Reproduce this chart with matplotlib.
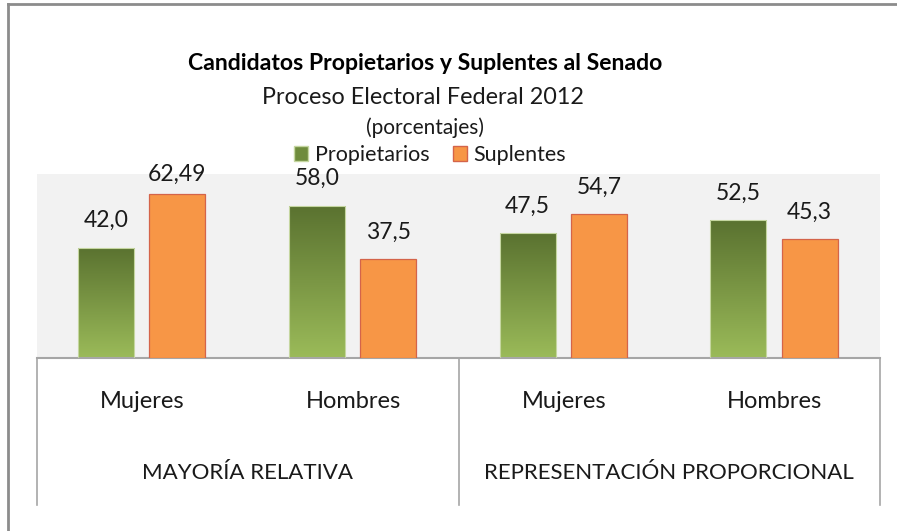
import numpy as np
import matplotlib
matplotlib.use('Agg')
import matplotlib.pyplot as plt
from matplotlib.patches import Patch
from matplotlib.colors import LinearSegmentedColormap
from matplotlib.lines import Line2D
import matplotlib.transforms as mtransforms

plt.rcParams['font.family'] = ['Lato', 'DejaVu Sans']

# data
categories = ['Mujeres', 'Hombres', 'Mujeres', 'Hombres']
groups = ['MAYORÍA RELATIVA', 'REPRESENTACIÓN PROPORCIONAL']
propietarios = [42.0, 58.0, 47.5, 52.5]
suplentes = [62.49, 37.5, 54.7, 45.3]
prop_labels = ['42,0', '58,0', '47,5', '52,5']
supl_labels = ['62,49', '37,5', '54,7', '45,3']

W, H = 897, 531
fig = plt.figure(figsize=(W / 100, H / 100), dpi=100)
fig.patch.set_facecolor('white')

# plot area in pixels (left, top, right, bottom)
px_l, px_t, px_r, px_b = 37, 174, 880, 358
ax = fig.add_axes([px_l / W, 1 - px_b / H, (px_r - px_l) / W, (px_b - px_t) / H])
ax.set_facecolor('#f2f2f2')
ax.set_xlim(-0.5, 3.5)
ax.set_ylim(0, 70)
ax.set_xticks([])
ax.set_yticks([])
for s in ['top', 'left', 'right']:
    ax.spines[s].set_visible(False)
ax.spines['bottom'].set_color('#a6a6a6')
ax.spines['bottom'].set_linewidth(1.5)

x = np.arange(len(categories))
bw = 0.266
green_bars = ax.bar(x - 0.172, propietarios, bw, color='none', edgecolor='#c5d6a0', linewidth=0.8, zorder=3)
orange_bars = ax.bar(x + 0.166, suplentes, bw, color='#f79646', edgecolor='#d4644a', linewidth=0.9, zorder=3)

# vertical gradient for the green bars
green_cmap = LinearSegmentedColormap.from_list('g', ['#9bbb59', '#5a7230'])
grad = np.linspace(0, 1, 256).reshape(-1, 1)
for p in green_bars:
    im = ax.imshow(grad, cmap=green_cmap, aspect='auto', origin='lower',
                   extent=[p.get_x(), p.get_x() + p.get_width(), 0, p.get_height()],
                   zorder=2)
    im.set_clip_path(p)
ax.set_xlim(-0.5, 3.5)
ax.set_ylim(0, 70)

txt = '#1a1a1a'

# data labels (kept inside the chart like excel does)
ppu = (px_b - px_t) / 70.0
def put_label(bars, labels):
    for p, lab in zip(bars, labels):
        h = p.get_height()
        off = min(27, (70 - h) * ppu)
        ax.annotate(lab, (p.get_x() + p.get_width() / 2, h), xytext=(0, off),
                    textcoords='offset pixels', ha='center', va='center',
                    fontsize=16.5, color=txt, annotation_clip=False)
put_label(green_bars, prop_labels)
put_label(orange_bars, supl_labels)

# category axis below the plot
def ay(py):
    return (px_b - py) / (px_b - px_t)
trans = mtransforms.blended_transform_factory(ax.transData, ax.transAxes)
for xi, c in zip(x, categories):
    ax.text(xi, ay(401), c, transform=trans, ha='center', va='center',
            fontsize=17, color=txt, clip_on=False)
for gi, g in enumerate(groups):
    ax.text(gi * 2 + 0.5, ay(473), g, transform=trans, ha='center', va='center',
            fontsize=16, color=txt, clip_on=False)
for xv in [-0.5, 1.5, 3.5]:
    ax.add_line(Line2D([xv, xv], [0, ay(505)], transform=trans, color='#a6a6a6',
                       linewidth=1.2, clip_on=False))

# titles
def fy(py):
    return 1 - py / H
fig.text(425 / W, fy(63), 'Candidatos Propietarios y Suplentes al Senado',
         ha='center', va='center', fontsize=16.6, fontweight='bold', color='black')
fig.text(423 / W, fy(97), 'Proceso Electoral Federal 2012',
         ha='center', va='center', fontsize=16.8, color=txt)
fig.text(425 / W, fy(128), '(porcentajes)',
         ha='center', va='center', fontsize=15, color=txt)

handles = [Patch(facecolor='#6f8c3c', edgecolor='#c5d6a0', label='Propietarios'),
           Patch(facecolor='#f79646', edgecolor='#d4644a', label='Suplentes')]
fig.legend(handles=handles, loc='center', bbox_to_anchor=(430 / W, fy(155)), ncol=2,
           frameon=False, fontsize=15.5, handlelength=0.65, handleheight=0.65,
           handletextpad=0.3, columnspacing=1.1, borderpad=0, labelcolor=txt)

# chart border (only top and left show in the crop)
fig.add_artist(Line2D([8 / W, 8 / W], [0, fy(4)], color='#8c8c8c', linewidth=2))
fig.add_artist(Line2D([8 / W, 1], [fy(4), fy(4)], color='#8c8c8c', linewidth=2))

fig.savefig('out.png', dpi=100)
